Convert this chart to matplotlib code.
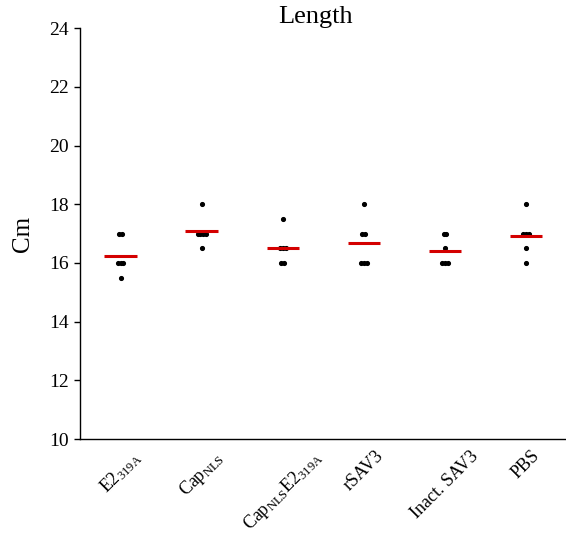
import matplotlib
matplotlib.use('Agg')
import matplotlib.pyplot as plt
import numpy as np

plt.rcParams['font.family'] = ['Liberation Serif', 'DejaVu Serif']
plt.rcParams['mathtext.fontset'] = 'custom'
plt.rcParams['mathtext.rm'] = 'Liberation Serif'
plt.rcParams['mathtext.it'] = 'Liberation Serif:italic'

groups = [r'E2$_{\mathrm{319A}}$', r'Cap$_{\mathrm{NLS}}$',
          r'Cap$_{\mathrm{NLS}}$E2$_{\mathrm{319A}}$', 'rSAV3',
          'Inact. SAV3', 'PBS']

e2 = [17, 17, 16, 16, 16, 15.5]
cap = [18, 17, 17, 17, 17, 16.5]
cap_e2 = [17.5, 16.5, 16.5, 16.5, 16, 16]
rsav = [18, 17, 17, 16, 16, 16]
inact = [17, 17, 16.5, 16, 16, 16]
pbs = [18, 17, 17, 17, 16.5, 16]

data = [e2, cap, cap_e2, rsav, inact, pbs]

fig = plt.figure(figsize=(5.66, 5.39), dpi=100)
ax = fig.add_axes([0.1413, 0.1855, 0.857, 0.762])

# punkte nebeneinander wenn gleiche werte
step = 0.034
for i, vals in enumerate(data):
    vals = np.array(vals, dtype=float)
    xs = np.zeros(len(vals))
    for v in np.unique(vals):
        idx = np.where(vals == v)[0]
        n = len(idx)
        xs[idx] = i + (np.arange(n) - (n - 1) / 2) * step
    ax.plot(xs, vals, 'o', color='black', markersize=2.7, zorder=2)
    m = vals.mean()
    ax.hlines(m, i - 0.2, i + 0.2, color='#d40000', lw=2.2, zorder=3)

ax.set_xlim(-0.5, 5.48)
ax.set_ylim(10, 24)
ax.set_yticks(np.arange(10, 25, 2))
ax.set_xticks(range(len(groups)))
ax.set_xticklabels(groups, rotation=45, ha='center', fontsize=13)
ax.tick_params(axis='x', length=0, pad=6)
ax.tick_params(axis='y', labelsize=14, length=4, width=1, pad=4)

for s in ['top', 'right']:
    ax.spines[s].set_visible(False)
ax.spines['left'].set_linewidth(1)
ax.spines['bottom'].set_linewidth(1)

ax.set_ylabel('Cm', fontsize=18, labelpad=11)
ax.set_title('Length', fontsize=19, pad=0, x=0.485)

fig.savefig('out.png', dpi=100)
